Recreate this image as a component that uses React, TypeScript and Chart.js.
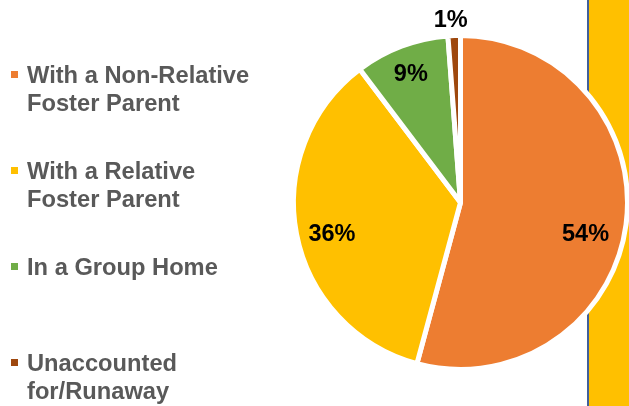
import React, { useEffect, useRef } from "react";
import { Chart, registerables } from "chart.js";

Chart.register(...registerables);

// ---- data ----
const categories: string[][] = [
  ["With a Non-Relative", "Foster Parent"],
  ["With a Relative", "Foster Parent"],
  ["In a Group Home"],
  ["Unaccounted", "for/Runaway"],
];
const values: number[] = [54.2, 35.5, 9.1, 1.2];
const percentLabels: string[] = values.map((v) => `${Math.round(v)}%`);
const colors: string[] = ["#ED7D31", "#FFC000", "#70AD47", "#9E480E"];

const FONT = '"Liberation Sans", Arial, sans-serif';

// label placement along each slice (radius factor, angle shift in degrees)
const labelRadius = [0.77, 0.79, 0.83, 1.1];
const labelAngleShift = [6.0, -2.0, -0.3, -0.9];

const panelPlugin = {
  id: "panel",
  beforeDraw(chart: any) {
    const { ctx, width, height } = chart;
    ctx.save();
    ctx.fillStyle = "#FFC000";
    ctx.fillRect(589, 0, width - 589, height);
    ctx.fillStyle = "#41609A";
    ctx.fillRect(587, 0, 2, height);
    ctx.restore();
  },
};

const legendPlugin = {
  id: "sideLegend",
  afterDraw(chart: any) {
    const { ctx } = chart;
    const labels = chart.data.labels as string[][];
    const bg = chart.data.datasets[0].backgroundColor as string[];
    ctx.save();
    ctx.font = `bold 23.7px ${FONT}`;
    ctx.textAlign = "left";
    ctx.textBaseline = "alphabetic";
    labels.forEach((lines, i) => {
      const base = 83 + i * 96;
      ctx.fillStyle = bg[i];
      ctx.fillRect(11, base - 12, 7, 7);
      ctx.fillStyle = "#595959";
      lines.forEach((line, j) => {
        ctx.fillText(line, 27, base + j * 27.5);
      });
    });
    ctx.restore();
  },
};

const dataLabelPlugin = {
  id: "sliceLabels",
  afterDatasetsDraw(chart: any) {
    const { ctx } = chart;
    const meta = chart.getDatasetMeta(0);
    ctx.save();
    ctx.font = `bold 23.5px ${FONT}`;
    ctx.fillStyle = "#000000";
    ctx.textAlign = "center";
    ctx.textBaseline = "alphabetic";
    meta.data.forEach((arc: any, i: number) => {
      const p = arc.getProps(["x", "y", "startAngle", "endAngle", "outerRadius"], true);
      const mid = (p.startAngle + p.endAngle) / 2 + (labelAngleShift[i] * Math.PI) / 180;
      const r = p.outerRadius * labelRadius[i];
      const x = p.x + Math.cos(mid) * r;
      const y = p.y + Math.sin(mid) * r;
      ctx.fillText(percentLabels[i], x, y + 8.4);
    });
    ctx.restore();
  },
};

export default function App() {
  const ref = useRef<HTMLCanvasElement | null>(null);
  useEffect(() => {
    if (!ref.current) return;
    const chart = new Chart(ref.current, {
      type: "pie",
      data: {
        labels: categories,
        datasets: [
          {
            data: values,
            backgroundColor: colors,
            borderColor: "#FFFFFF",
            borderWidth: 5,
            radius: 167,
          },
        ],
      },
      options: {
        animation: false,
        responsive: true,
        maintainAspectRatio: false,
        layout: { padding: { left: 292, right: 0, top: 34, bottom: 35 } },
        plugins: {
          legend: { display: false },
          tooltip: { enabled: false },
        },
      },
      plugins: [panelPlugin, legendPlugin, dataLabelPlugin],
    });
    return () => chart.destroy();
  }, []);
  return (
    <div style={{ position: "fixed", left: 0, top: 0, width: 629, height: 406, background: "#fff" }}>
      <canvas ref={ref} />
    </div>
  );
}
